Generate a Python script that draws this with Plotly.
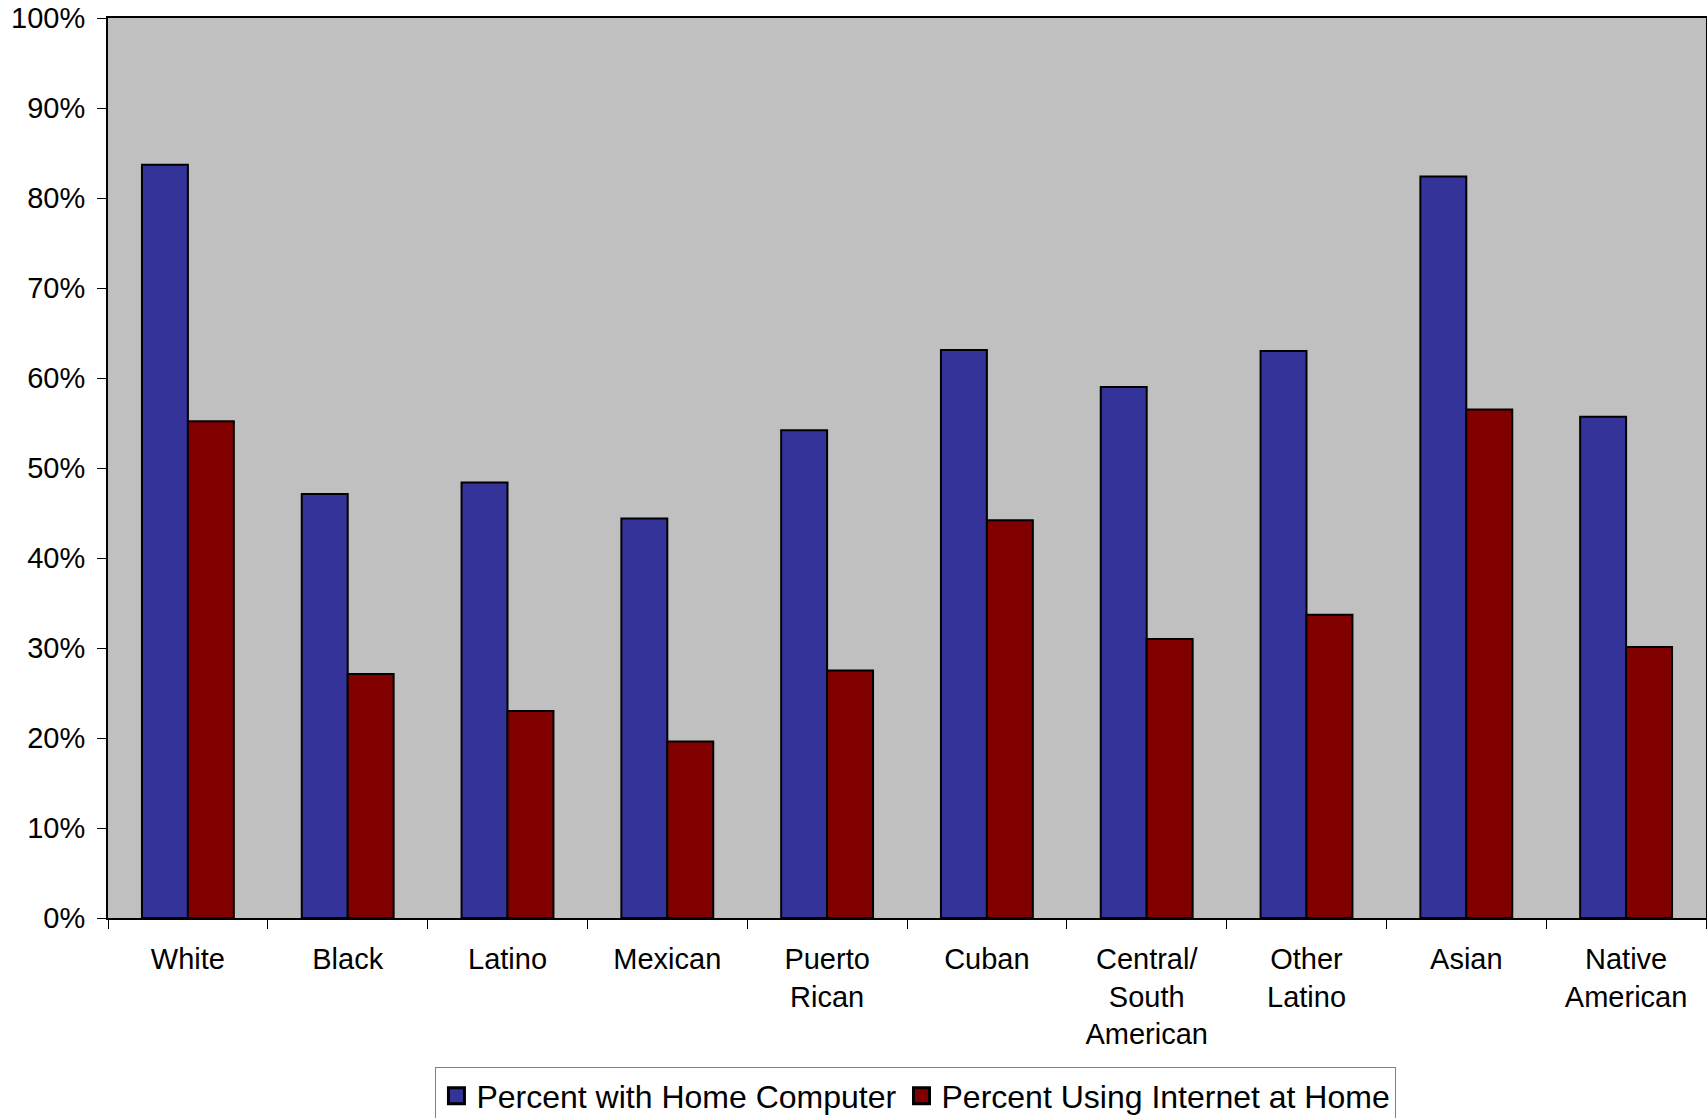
import plotly.graph_objects as go

categories = ["White", "Black", "Latino", "Mexican", "Puerto<br>Rican", "Cuban",
              "Central/<br>South<br>American", "Other<br>Latino", "Asian", "Native<br>American"]
computer = [83.7, 47.1, 48.4, 44.4, 54.2, 63.1, 59.0, 63.0, 82.4, 55.7]
internet = [55.2, 27.1, 23.0, 19.6, 27.5, 44.2, 31.0, 33.7, 56.5, 30.1]
series_names = ["Percent with Home Computer", "Percent Using Internet at Home"]
series_colors = ["#333399", "#800000"]
y_ticks = list(range(0, 101, 10))
y_ticktext = [f"{v}%" for v in y_ticks]

FONT = "Liberation Sans, Arial, sans-serif"

fig = go.Figure()
for name, vals, col in zip(series_names, [computer, internet], series_colors):
    fig.add_trace(go.Bar(x=categories, y=vals, name=name, showlegend=False,
                         marker=dict(color=col, line=dict(color="black", width=2))))
# legend entries with larger square swatches
for name, col in zip(series_names, series_colors):
    fig.add_trace(go.Scatter(x=[None], y=[None], mode="markers", name=name,
                             marker=dict(symbol="square", size=19, color=col,
                                         line=dict(color="black", width=3))))

fig.update_layout(
    width=1707, height=1118,
    margin=dict(l=108, r=1, t=18, b=200, autoexpand=False),
    paper_bgcolor="white", plot_bgcolor="#C0C0C0",
    barmode="group", bargap=0.425, bargroupgap=0,
    font=dict(family=FONT, size=29, color="black"),
    showlegend=True,
    legend=dict(orientation="h", x=0.5056, xanchor="center", y=-0.166, yanchor="top",
                bordercolor="#808080", borderwidth=1, bgcolor="white",
                font=dict(size=32, family=FONT), traceorder="normal",
                itemwidth=30),
)
fig.update_xaxes(showline=True, linecolor="black", linewidth=2, mirror=True,
                 ticks="outside", ticklen=9, tickcolor="black", tickwidth=1,
                 tickson="boundaries", showgrid=False, tickfont=dict(size=29),
                 ticklabelstandoff=14)
fig.update_yaxes(range=[0, 100], tickvals=y_ticks, ticktext=y_ticktext,
                 showline=True, linecolor="black", linewidth=2, mirror=True,
                 ticks="outside", ticklen=9, tickcolor="black", tickwidth=1,
                 showgrid=False, zeroline=False, tickfont=dict(size=29),
                 ticklabelstandoff=6)

fig.write_html("out.html", config={"displayModeBar": False},
               post_script="document.body.style.margin='0';document.body.style.overflow='hidden';")
